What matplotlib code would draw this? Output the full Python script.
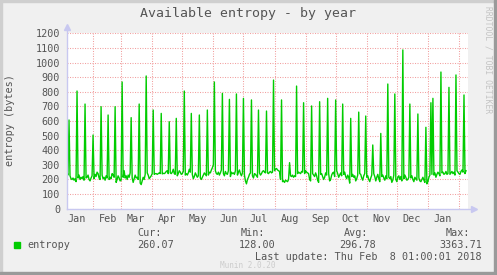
import numpy as np
import matplotlib
matplotlib.use('Agg')
import matplotlib.pyplot as plt
from matplotlib.patches import Rectangle

# daily samples, first day 2017-01-06, last day 2018-02-08
start_day = '2017-01-06'
baseline = [
    250, 230, 215, 225, 205, 200, 210, 195, 205, 185, 170, 210, 230, 200, 215, 205, 220, 195, 200, 210,
    215, 230, 200, 190, 210, 225, 215, 205, 235, 220, 250, 240, 210, 200, 215, 230, 205, 215, 195, 225,
    210, 230, 200, 215, 205, 240, 230, 215, 205, 180, 200, 225, 210, 190, 195, 205, 215, 260, 210, 225,
    200, 230, 215, 245, 225, 210, 180, 205, 230, 210, 215, 200, 220, 175, 165, 190, 215, 200, 235, 220,
    245, 230, 205, 215, 225, 240, 230, 235, 240, 240, 235, 240, 245, 240, 240, 238, 242, 240, 245, 255,
    260, 240, 235, 245, 240, 250, 270, 240, 235, 230, 225, 240, 260, 250, 235, 240, 255, 245, 230, 240,
    230, 245, 270, 250, 240, 235, 205, 220, 245, 230, 215, 225, 240, 210, 200, 215, 230, 245, 235, 225,
    215, 230, 250, 245, 265, 280, 300, 310, 260, 240, 235, 250, 230, 245, 265, 250, 240, 225, 255, 240,
    235, 260, 245, 220, 250, 240, 245, 235, 260, 245, 230, 250, 265, 240, 225, 245, 255, 230, 190, 170,
    200, 215, 235, 245, 250, 225, 210, 240, 235, 225, 215, 250, 245, 230, 240, 255, 260, 250, 245, 240,
    245, 240, 250, 255, 245, 250, 240, 260, 270, 275, 265, 260, 255, 200, 195, 185, 190, 180, 195, 190,
    185, 200, 215, 225, 220, 230, 215, 225, 220, 245, 240, 250, 245, 240, 255, 250, 245, 240, 260, 250,
    245, 240, 200, 190, 215, 240, 230, 220, 245, 225, 195, 180, 210, 235, 240, 220, 200, 215, 245, 230,
    225, 240, 190, 200, 230, 245, 250, 220, 235, 260, 240, 215, 230, 245, 225, 210, 235, 250, 220, 205,
    230, 215, 175, 195, 220, 235, 215, 225, 190, 205, 230, 220, 240, 235, 210, 195, 225, 240, 200, 215,
    225, 200, 185, 210, 230, 205, 240, 220, 190, 215, 235, 205, 185, 200, 220, 230, 210, 195, 225, 205,
    190, 215, 205, 220, 180, 195, 230, 210, 200, 185, 215, 225, 200, 220, 190, 180, 205, 230, 215, 195,
    200, 215, 190, 210, 225, 200, 185, 215, 205, 195, 220, 210, 190, 185, 200, 215, 195, 180, 175, 170,
    185, 215, 230, 240, 235, 225, 230, 245, 215, 235, 250, 240, 225, 230, 245, 250, 235, 240, 255, 235,
    240, 250, 235, 245, 255, 240, 250, 230, 245, 260, 250, 240, 235, 255, 265, 250, 245, 240, 260,
]
spike_days = [2, 10, 18, 26, 34, 41, 48, 55, 64, 72, 79, 86, 94, 102, 109, 117,
              124, 132, 140, 147, 155, 162, 169, 176, 184, 191, 199, 206, 214, 222, 229, 236,
              244, 252, 260, 268, 275, 283, 291, 298, 305, 313, 320, 327, 335, 342, 350, 358,
              363, 365, 373, 381, 388, 396]
spike_values = [607, 805, 716, 504, 698, 641, 698, 867, 623, 716, 908, 675, 652, 595, 618, 805,
                652, 641, 675, 867, 789, 748, 785, 755, 744, 675, 668, 880, 744, 315, 839, 725,
                703, 732, 755, 744, 716, 618, 661, 634, 436, 515, 853, 785, 1086, 716, 648, 557,
                725, 755, 935, 830, 915, 778]

month_names = ['Jan', 'Feb', 'Mar', 'Apr', 'May', 'Jun', 'Jul', 'Aug', 'Sep', 'Oct', 'Nov', 'Dec', 'Jan']
y_ticks = list(range(0, 1300, 100))

legend_heads = ['Cur:', 'Min:', 'Avg:', 'Max:']
legend_vals = ['260.07', '128.00', '296.78', '3363.71']

entropy = np.array(baseline, dtype=float)
for d, v in zip(spike_days, spike_values):
    entropy[d] = v
days = np.datetime64(start_day) + np.arange(len(entropy))

GREEN = '#00CC00'
GRID = '#F2A0A0'
AXIS = '#C8C8F0'
TXT = '#555555'
mono = 'DejaVu Sans Mono'

fig = plt.figure(figsize=(4.97, 2.75), dpi=100)
fig.patch.set_facecolor('#F0F0F0')
W, H = 497.0, 275.0

# 3d-ish frame of munin canvas
fig.patches.append(Rectangle((0, 0), 2 / W, 1, transform=fig.transFigure, color='#CFCFCF', zorder=0))
fig.patches.append(Rectangle((0, 1 - 2 / H), 1, 2 / H, transform=fig.transFigure, color='#CFCFCF', zorder=0))
fig.patches.append(Rectangle((1 - 3 / W, 0), 3 / W, 1, transform=fig.transFigure, color='#9A9A9A', zorder=0))
fig.patches.append(Rectangle((0, 0), 1, 3 / H, transform=fig.transFigure, color='#9A9A9A', zorder=0))

ax = fig.add_axes([67 / W, (H - 208.7) / H, 401 / W, 175.4 / H])
ax.set_facecolor('white')

ax.plot(days, entropy, color=GREEN, lw=1.0, zorder=3)

ax.set_xlim(np.datetime64(start_day), np.datetime64('2018-02-10'))
ax.set_ylim(0, 1200)

month_starts = [np.datetime64('2017-%02d-01' % m) for m in range(2, 13)] + \
               [np.datetime64('2018-01-01'), np.datetime64('2018-02-01')]
month_mids = [np.datetime64('2017-%02d-16' % m) for m in range(1, 13)] + [np.datetime64('2018-01-16')]

ax.set_xticks(month_starts)
ax.set_xticklabels([])
ax.set_xticks(month_mids, minor=True)
ax.set_xticklabels(month_names, minor=True)
ax.set_yticks(y_ticks)
ax.set_yticklabels([str(t) for t in y_ticks])

ax.tick_params(axis='both', which='both', length=0, colors=TXT, labelsize=7.3)
ax.tick_params(axis='x', which='minor', pad=4)
ax.tick_params(axis='y', pad=5)
for lab in ax.get_xticklabels(minor=True) + ax.get_yticklabels():
    lab.set_fontfamily(mono)

ax.grid(True, which='major', color=GRID, lw=0.75, ls=(0, (1, 1.4)), zorder=1)
ax.set_axisbelow(True)

for s in ax.spines.values():
    s.set_visible(False)

# axis lines with small arrows, like rrdtool
ax.plot([0, 1.012], [0, 0], transform=ax.transAxes, color=AXIS, lw=1, clip_on=False, zorder=4)
ax.plot([0, 0], [0, 1.03], transform=ax.transAxes, color=AXIS, lw=1, clip_on=False, zorder=4)
ax.plot([1.015], [0], transform=ax.transAxes, marker='>', ms=4, color=AXIS, clip_on=False, zorder=4)
ax.plot([0], [1.035], transform=ax.transAxes, marker='^', ms=4, color=AXIS, clip_on=False, zorder=4)

fig.text(248 / W, 1 - 13 / H, 'Available entropy - by year', ha='center', va='center',
         family=mono, fontsize=9.5, color=TXT)
fig.text(10 / W, 1 - 120 / H, 'entropy (bytes)', ha='center', va='center', rotation=90,
         family=mono, fontsize=7.3, color=TXT)
fig.text(488 / W, 1 - 60 / H, 'RRDTOOL / TOBI OETIKER', ha='center', va='center', rotation=270,
         family=mono, fontsize=5.8, color='#C4C4C4')

# legend block
fig.patches.append(Rectangle((14 / W, 1 - 248 / H), 6 / W, 6 / H, transform=fig.transFigure,
                             color=GREEN, zorder=2))
fig.text(27 / W, 1 - 245 / H, 'entropy', ha='left', va='center', family=mono, fontsize=7.3, color=TXT)
head_x = [162, 265, 368, 470]
val_x = [174, 276, 376, 482]
for hx, vx, hd, vl in zip(head_x, val_x, legend_heads, legend_vals):
    fig.text(hx / W, 1 - 233 / H, hd, ha='right', va='center', family=mono, fontsize=7.3, color=TXT)
    fig.text(vx / W, 1 - 245 / H, vl, ha='right', va='center', family=mono, fontsize=7.3, color=TXT)
fig.text(482 / W, 1 - 257 / H, 'Last update: Thu Feb  8 01:00:01 2018', ha='right', va='center',
         family=mono, fontsize=7.3, color=TXT)
fig.text(248 / W, 1 - 265 / H, 'Munin 2.0.20', ha='center', va='center', family=mono,
         fontsize=5.5, color='#CCCCCC')

fig.savefig('out.png', dpi=100, facecolor=fig.get_facecolor())
